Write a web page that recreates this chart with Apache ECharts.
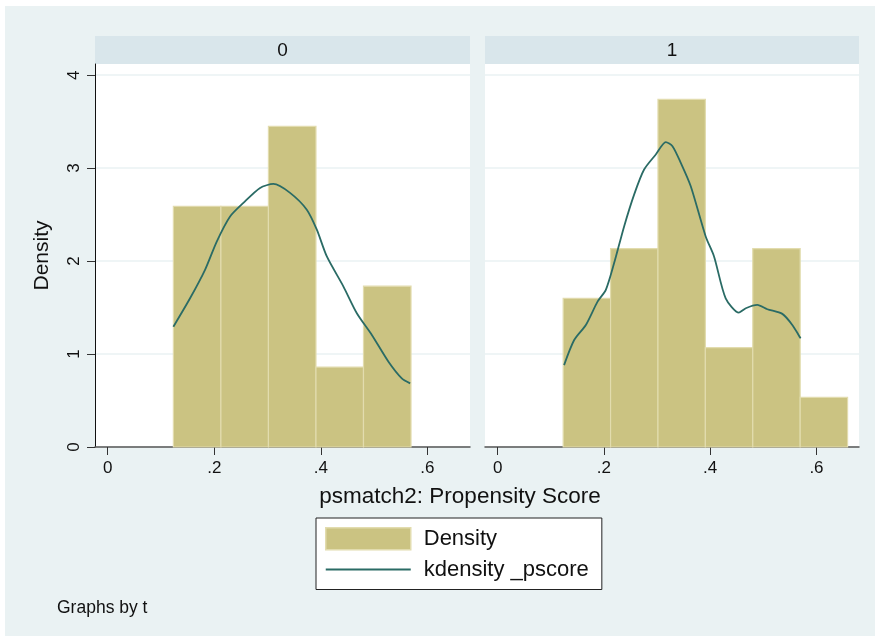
<!DOCTYPE html>
<html>
<head>
<meta charset="utf-8">
<script src="https://cdn.jsdelivr.net/npm/echarts@6/dist/echarts.min.js"></script>
<style>
html,body{margin:0;padding:0;background:#ffffff;}
#chart{width:878px;height:640px;}
</style>
</head>
<body>
<div id="chart"></div>
<script>
// Histogram bin edges (shared by both panels)
var binEdges = [0.1233, 0.2125, 0.3017, 0.3909, 0.4801, 0.5693, 0.6585];
// Histogram densities per bin
var hist0 = [2.59, 2.59, 3.45, 0.86, 1.73, 0];
var hist1 = [1.60, 2.135, 3.74, 1.068, 2.135, 0.534];
// Kernel density curve, panel 0
var kdX0 = [0.1233, 0.1546, 0.1827, 0.2047, 0.2297, 0.2547, 0.286, 0.311, 0.3423, 0.3737, 0.3925, 0.4113, 0.4425, 0.4676, 0.4958, 0.527, 0.552, 0.5677];
var kdY0 = [1.294, 1.60, 1.906, 2.21, 2.48, 2.626, 2.787, 2.83, 2.734, 2.553, 2.338, 2.05, 1.726, 1.439, 1.205, 0.917, 0.738, 0.684];
// Kernel density curve, panel 1
var kdX1 = [0.125, 0.144, 0.166, 0.188, 0.2036, 0.2192, 0.238, 0.2568, 0.2756, 0.2976, 0.3164, 0.329, 0.3446, 0.3634, 0.3915, 0.4072, 0.4291, 0.4541, 0.467, 0.4887, 0.5075, 0.5357, 0.5545, 0.570];
var kdY1 = [0.881, 1.151, 1.313, 1.564, 1.69, 1.978, 2.373, 2.715, 2.985, 3.147, 3.28, 3.236, 3.057, 2.805, 2.265, 2.05, 1.60, 1.446, 1.493, 1.529, 1.482, 1.432, 1.313, 1.169];
var panelLabels = ['0', '1'];
var xTicks = [0, 0.2, 0.4, 0.6];
var yTicks = [0, 1, 2, 3, 4];
var xTitle = 'psmatch2: Propensity Score';
var yTitle = 'Density';
var barName = 'Density';
var lineName = 'kdensity _pscore';
var note = 'Graphs by t';

var FONT = '"Liberation Sans", Arial, Helvetica, sans-serif';
var BAR_COLOR = '#cbc382';
var BAR_EDGE = '#e2dcae';
var LINE_COLOR = '#2a6b65';
var BG = '#eaf2f3';
var STRIP = '#d9e6eb';

function histData(h) {
  var out = [];
  for (var i = 0; i < h.length; i++) {
    if (h[i] > 0) out.push([binEdges[i], binEdges[i + 1], h[i]]);
  }
  return out;
}
function lineData(xs, ys) {
  return xs.map(function (x, i) { return [x, ys[i]]; });
}
function renderBar(params, api) {
  var p0 = api.coord([api.value(0), 0]);
  var p1 = api.coord([api.value(1), api.value(2)]);
  return {
    type: 'rect',
    shape: { x: p0[0], y: p1[1], width: p1[0] - p0[0], height: p0[1] - p1[1] },
    style: { fill: BAR_COLOR, stroke: BAR_EDGE, lineWidth: 1.2 }
  };
}
function fmtX(v) {
  if (Math.abs(v) < 1e-9) return '0';
  return String(+v.toFixed(1)).replace(/^0\./, '.');
}

var grids = [
  { left: 95, top: 64, width: 375, height: 383 },
  { left: 485, top: 64, width: 374, height: 383 }
];

function xAxisFor(i) {
  return {
    type: 'value', gridIndex: i, min: -0.0238, max: 0.68,
    axisLine: { show: true, onZero: false, lineStyle: { color: '#555555', width: 1.5 } },
    axisTick: { show: true, length: 8, customValues: xTicks, lineStyle: { color: '#333333', width: 1 } },
    axisLabel: { customValues: xTicks, formatter: fmtX, fontFamily: FONT, fontSize: 17, color: '#111111', margin: 13 },
    splitLine: { show: false }
  };
}
function yAxisFor(i) {
  return {
    type: 'value', gridIndex: i, min: 0, max: 4.12,
    axisLine: { show: i === 0, onZero: false, lineStyle: { color: '#111111', width: 1 } },
    axisTick: { show: i === 0, length: 8, customValues: yTicks, lineStyle: { color: '#333333' } },
    axisLabel: { show: i === 0, customValues: yTicks, rotate: 90, fontFamily: FONT, fontSize: 17, color: '#111111', margin: 12 },
    splitLine: { show: true, lineStyle: { color: BG, width: 1.5 } },
    name: i === 0 ? yTitle : '',
    nameLocation: 'middle', nameGap: 42, nameRotate: 90,
    nameTextStyle: { fontFamily: FONT, fontSize: 21, color: '#111111' }
  };
}

var chart = echarts.init(document.getElementById('chart'), null, { renderer: 'canvas' });
var option = {
  backgroundColor: '#ffffff',
  animation: false,
  graphic: [
    { type: 'rect', z: -10, shape: { x: 5, y: 6, width: 870, height: 630 }, style: { fill: BG } },
    { type: 'rect', z: -5, shape: { x: 95, y: 36, width: 375, height: 28 }, style: { fill: STRIP } },
    { type: 'rect', z: -5, shape: { x: 485, y: 36, width: 374, height: 28 }, style: { fill: STRIP } },
    { type: 'rect', z: -5, shape: { x: 95, y: 64, width: 375, height: 383 }, style: { fill: '#ffffff' } },
    { type: 'rect', z: -5, shape: { x: 485, y: 64, width: 374, height: 383 }, style: { fill: '#ffffff' } },
    { type: 'text', z: 5, style: { text: panelLabels[0], x: 282.5, y: 51, textAlign: 'center', textVerticalAlign: 'middle', font: '19px ' + FONT, fill: '#111111' } },
    { type: 'text', z: 5, style: { text: panelLabels[1], x: 672, y: 51, textAlign: 'center', textVerticalAlign: 'middle', font: '19px ' + FONT, fill: '#111111' } },
    { type: 'text', z: 5, style: { text: xTitle, x: 460, y: 497, textAlign: 'center', textVerticalAlign: 'middle', font: '22.5px ' + FONT, fill: '#111111' } },
    { type: 'text', z: 5, style: { text: note, x: 57, y: 608, textAlign: 'left', textVerticalAlign: 'middle', font: '17.5px ' + FONT, fill: '#111111' } }
  ],
  legend: {
    orient: 'vertical', left: 316, top: 518,
    backgroundColor: '#ffffff', borderColor: '#222222', borderWidth: 1,
    padding: [9, 13, 9, 9],
    itemWidth: 85, itemHeight: 22, itemGap: 8,
    textStyle: { fontFamily: FONT, fontSize: 22, color: '#111111', padding: [0, 0, 0, 8] },
    data: [
      { name: barName, icon: 'rect', itemStyle: { color: BAR_COLOR, borderColor: BAR_EDGE, borderWidth: 1.5 } },
      { name: lineName, icon: 'path://M0,0 L0.01,0 M0,22 L0.01,22 M0,9.9 L85,9.9 L85,12.1 L0,12.1 Z', itemStyle: { color: LINE_COLOR, borderWidth: 0 } }
    ]
  },
  grid: grids,
  xAxis: [xAxisFor(0), xAxisFor(1)],
  yAxis: [yAxisFor(0), yAxisFor(1)],
  series: [
    { name: barName, type: 'custom', xAxisIndex: 0, yAxisIndex: 0, renderItem: renderBar, data: histData(hist0), encode: { x: [0, 1], y: 2 }, itemStyle: { color: BAR_COLOR } },
    { name: barName, type: 'custom', xAxisIndex: 1, yAxisIndex: 1, renderItem: renderBar, data: histData(hist1), encode: { x: [0, 1], y: 2 }, itemStyle: { color: BAR_COLOR } },
    { name: lineName, type: 'line', xAxisIndex: 0, yAxisIndex: 0, data: lineData(kdX0, kdY0), smooth: 0.25, symbol: 'none', lineStyle: { color: LINE_COLOR, width: 1.8 }, itemStyle: { color: LINE_COLOR }, z: 5 },
    { name: lineName, type: 'line', xAxisIndex: 1, yAxisIndex: 1, data: lineData(kdX1, kdY1), smooth: 0.25, symbol: 'none', lineStyle: { color: LINE_COLOR, width: 1.8 }, itemStyle: { color: LINE_COLOR }, z: 5 }
  ]
};
chart.setOption(option);
</script>
</body>
</html>
